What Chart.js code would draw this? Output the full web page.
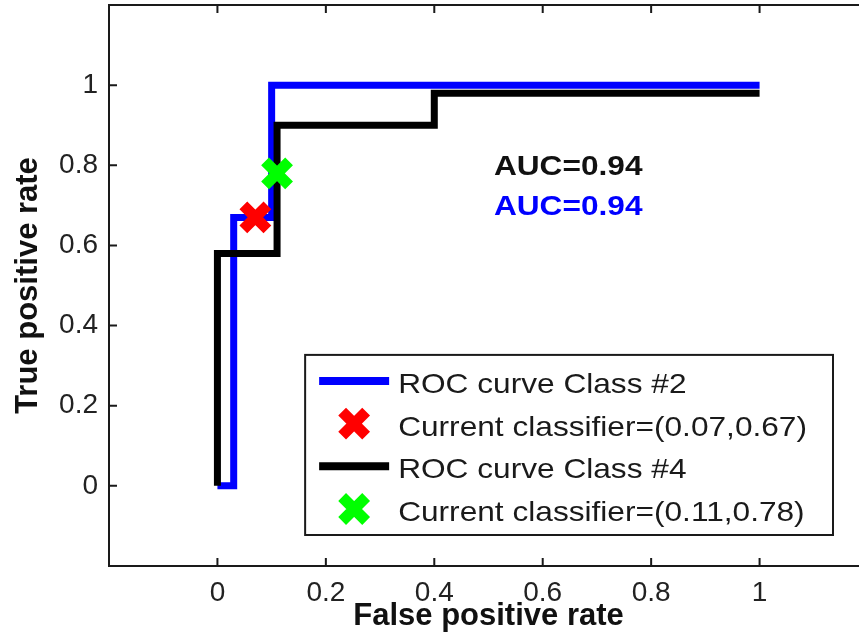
<!DOCTYPE html>
<html>
<head>
<meta charset="UTF-8">
<title>ROC curves</title>
<script src="https://cdn.jsdelivr.net/npm/chart.js"></script>
<style>
body { margin: 0; background: #fff; overflow: hidden; }
canvas { display: block; }
</style>
</head>
<body>
<canvas id="rocChart" width="880" height="644"></canvas>
<script>
// ROC curve corners, class #2
const fpr2 = [0, 0.03, 0.03, 0.1, 0.1, 1];
const tpr2 = [0, 0, 0.67, 0.67, 1, 1];
// ROC curve corners, class #4
const fpr4 = [0, 0, 0.11, 0.11, 0.4, 0.4, 1];
const tpr4 = [0, 0.58, 0.58, 0.9, 0.9, 0.98, 0.98];
// operating point of the current classifier (fpr, tpr)
const current2 = [0.07, 0.67];
const current4 = [0.11, 0.78];
const auc4 = 0.94;
const auc2 = 0.94;
const xTicks = [0, 0.2, 0.4, 0.6, 0.8, 1];
const yTicks = [0, 0.2, 0.4, 0.6, 0.8, 1];

const FONT = "'Liberation Sans', Arial, sans-serif";
const WIDE = 1.13; // text in this figure is a bit wider than the font

const toPoints = (xs, ys) => xs.map((x, i) => ({ x: x, y: ys[i] }));

function wideText(ctx, text, x, y) {
    ctx.save();
    ctx.translate(x, y);
    ctx.scale(WIDE, 1);
    ctx.fillText(text, 0, 0);
    ctx.restore();
}

function drawX(ctx, cx, cy, color) {
    const d = 12;
    ctx.save();
    ctx.strokeStyle = color;
    ctx.lineWidth = 11;
    ctx.beginPath();
    ctx.moveTo(cx - d, cy - d); ctx.lineTo(cx + d, cy + d);
    ctx.moveTo(cx + d, cy - d); ctx.lineTo(cx - d, cy + d);
    ctx.stroke();
    ctx.restore();
}

// fixed axis sizes, no extra room for edge labels
function fixBox(s, size) {
    if (s.isHorizontal()) s.height = size; else s.width = size;
    s.paddingTop = 0;
    s.paddingBottom = 0;
    s.paddingLeft = 0;
    s.paddingRight = 0;
}

// axes box with inward ticks on all four sides
const frame = {
    id: 'frame',
    afterDatasetsDraw(chart) {
        const { ctx, chartArea: a, scales } = chart;
        ctx.save();
        ctx.strokeStyle = '#1a1a1a';
        ctx.lineWidth = 2;
        ctx.strokeRect(a.left, a.top, a.right - a.left, a.bottom - a.top);
        ctx.beginPath();
        xTicks.forEach(v => {
            const px = scales.x.getPixelForValue(v);
            ctx.moveTo(px, a.bottom); ctx.lineTo(px, a.bottom - 8);
            ctx.moveTo(px, a.top); ctx.lineTo(px, a.top + 8);
        });
        yTicks.forEach(v => {
            const py = scales.y.getPixelForValue(v);
            ctx.moveTo(a.left, py); ctx.lineTo(a.left + 8, py);
            ctx.moveTo(a.right, py); ctx.lineTo(a.right - 8, py);
        });
        ctx.stroke();
        ctx.restore();
    }
};

// AUC annotations and the boxed legend in the lower right
const notes = {
    id: 'notes',
    afterDraw(chart) {
        const { ctx, chartArea: a, scales } = chart;
        const ds = chart.data.datasets;
        ctx.save();
        ctx.textBaseline = 'alphabetic';
        ctx.textAlign = 'left';

        ctx.font = 'bold 28px ' + FONT;
        const tx = scales.x.getPixelForValue(0.51);
        ctx.fillStyle = '#111';
        wideText(ctx, 'AUC=' + auc4.toFixed(2), tx, scales.y.getPixelForValue(0.8) + 10);
        ctx.fillStyle = '#0000ff';
        wideText(ctx, 'AUC=' + auc2.toFixed(2), tx, scales.y.getPixelForValue(0.7) + 10);

        ctx.font = '28px ' + FONT;
        const textW = Math.max(...ds.map(d => ctx.measureText(d.label).width)) * WIDE;
        const rowH = 42.7;
        const w = 93 + textW + 26;
        const h = 26 * 2 + rowH * (ds.length - 1);
        const right = a.right - 35;
        const bottom = a.bottom - 31;
        const left = right - w;
        const top = bottom - h;

        ctx.fillStyle = '#fff';
        ctx.fillRect(left, top, w, h);
        ctx.strokeStyle = '#1a1a1a';
        ctx.lineWidth = 2;
        ctx.strokeRect(left, top, w, h);

        ds.forEach((d, i) => {
            const cy = top + 26 + i * rowH;
            if (d.showLine) {
                ctx.save();
                ctx.strokeStyle = d.borderColor;
                ctx.lineWidth = 8;
                ctx.beginPath();
                ctx.moveTo(left + 14, cy);
                ctx.lineTo(left + 84, cy);
                ctx.stroke();
                ctx.restore();
            } else {
                drawX(ctx, left + 49, cy, d.pointBorderColor);
            }
            ctx.fillStyle = '#1a1a1a';
            wideText(ctx, d.label, left + 93, cy + 12);
        });
        ctx.restore();
    }
};

new Chart(document.getElementById('rocChart'), {
    type: 'scatter',
    data: {
        datasets: [
            {
                label: 'ROC curve Class #2',
                data: toPoints(fpr2, tpr2),
                showLine: true,
                borderColor: '#0000ff',
                borderWidth: 7,
                borderJoinStyle: 'miter',
                pointRadius: 0,
                order: 3
            },
            {
                label: 'Current classifier=(' + current2.join(',') + ')',
                data: [{ x: current2[0], y: current2[1] }],
                pointStyle: 'crossRot',
                pointRadius: 17,
                pointHoverRadius: 17,
                pointBorderWidth: 11,
                pointBorderColor: '#ff0000',
                pointBackgroundColor: '#ff0000',
                order: 1
            },
            {
                label: 'ROC curve Class #4',
                data: toPoints(fpr4, tpr4),
                showLine: true,
                borderColor: '#000000',
                borderWidth: 7,
                borderJoinStyle: 'miter',
                pointRadius: 0,
                order: 2
            },
            {
                label: 'Current classifier=(' + current4.join(',') + ')',
                data: [{ x: current4[0], y: current4[1] }],
                pointStyle: 'crossRot',
                pointRadius: 17,
                pointHoverRadius: 17,
                pointBorderWidth: 11,
                pointBorderColor: '#00ff00',
                pointBackgroundColor: '#00ff00',
                order: 0
            }
        ]
    },
    options: {
        responsive: false,
        animation: false,
        devicePixelRatio: 1,
        layout: { autoPadding: false, padding: { left: 0, right: 12, top: 5, bottom: 0 } },
        plugins: { legend: { display: false }, tooltip: { enabled: false } },
        scales: {
            x: {
                type: 'linear',
                min: -0.2,
                max: 1.2,
                grid: { display: false, drawTicks: false },
                border: { display: false },
                afterBuildTicks: s => { s.ticks = xTicks.map(v => ({ value: v })); },
                afterFit: s => fixBox(s, 78),
                ticks: {
                    autoSkip: false,
                    maxRotation: 0,
                    padding: 10,
                    color: '#222',
                    font: { family: FONT, size: 28 },
                    callback: v => String(v)
                },
                title: {
                    display: true,
                    text: 'False positive rate',
                    color: '#111',
                    font: { family: FONT, size: 31, weight: 'bold' },
                    padding: { top: 0, bottom: 9 }
                }
            },
            y: {
                type: 'linear',
                min: -0.2,
                max: 1.2,
                grid: { display: false, drawTicks: false },
                border: { display: false },
                afterBuildTicks: s => { s.ticks = yTicks.map(v => ({ value: v })); },
                afterFit: s => fixBox(s, 109),
                ticks: {
                    autoSkip: false,
                    padding: 11,
                    color: '#222',
                    font: { family: FONT, size: 28 },
                    callback: v => String(v)
                },
                title: {
                    display: true,
                    text: 'True positive rate',
                    color: '#111',
                    font: { family: FONT, size: 31, weight: 'bold' },
                    padding: { top: 10, bottom: 0 }
                }
            }
        }
    },
    plugins: [frame, notes]
});
</script>
</body>
</html>
